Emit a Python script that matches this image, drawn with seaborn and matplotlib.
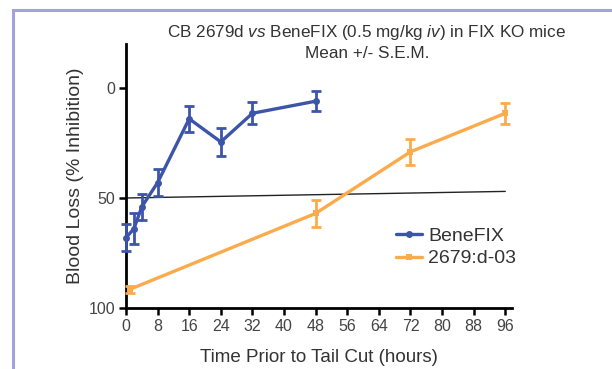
import numpy as np
import pandas as pd
import seaborn as sns
import matplotlib.pyplot as plt
from matplotlib.patches import Rectangle

sns.set_theme(style="ticks")
plt.rcParams["font.family"] = ["Liberation Sans", "DejaVu Sans"]
plt.rcParams["mathtext.fontset"] = "custom"
plt.rcParams["mathtext.rm"] = "Liberation Sans"
plt.rcParams["mathtext.it"] = "Liberation Sans:italic"

# BeneFIX
benefix_hours = [0, 2, 4, 8, 16, 24, 32, 48]
benefix_mean = [68, 64, 54, 43, 14, 24.5, 11.5, 6]
benefix_sem = [6, 7, 6, 6, 6, 6.5, 5, 4.5]

# 2679:d-03
cb_hours = [1, 48, 72, 96]
cb_mean = [91.5, 57, 29, 11.5]
cb_sem = [1.5, 6, 6, 4.7]

# 50% reference line
ref_hours = [0, 96]
ref_level = [50, 47]

x_ticks = list(range(0, 97, 8))
y_ticks = [0, 50, 100]

blue = "#3d55a8"
orange = "#fbab4c"

df = pd.concat([
    pd.DataFrame({"hours": benefix_hours, "loss": benefix_mean, "group": "BeneFIX"}),
    pd.DataFrame({"hours": cb_hours, "loss": cb_mean, "group": "2679:d-03"}),
])

fig = plt.figure(figsize=(6.12, 3.69), dpi=100)
ax = fig.add_axes([126 / 612, 1 - 308 / 369, (512 - 126) / 612, (308 - 44) / 369])

ax.plot(ref_hours, ref_level, color="#222222", lw=1.0, zorder=1)

sns.lineplot(data=df, x="hours", y="loss", hue="group", style="group",
             palette={"BeneFIX": blue, "2679:d-03": orange},
             markers={"BeneFIX": "o", "2679:d-03": "s"}, dashes=False,
             markersize=5, markeredgewidth=0, lw=2.4, ax=ax, clip_on=False,
             zorder=3)
ax.errorbar(benefix_hours, benefix_mean, yerr=benefix_sem, fmt="none",
            ecolor=blue, elinewidth=2, capsize=3.5, capthick=2, clip_on=False,
            zorder=3)
ax.errorbar(cb_hours, cb_mean, yerr=cb_sem, fmt="none",
            ecolor=orange, elinewidth=2, capsize=3.5, capthick=2, clip_on=False,
            zorder=3)

ax.set_xlim(0, 97.7)
ax.set_ylim(100, -20)
ax.set_xticks(x_ticks)
ax.set_yticks(y_ticks)
ax.tick_params(axis="both", labelsize=11.5, labelcolor="#444444", width=1.8,
               length=5, color="black", pad=3)
for side in ["left", "bottom"]:
    ax.spines[side].set_linewidth(2)
    ax.spines[side].set_color("black")
sns.despine(ax=ax)

ax.set_xlabel("Time Prior to Tail Cut (hours)", fontsize=13.5, color="#333333",
              labelpad=11)
ax.set_ylabel("Blood Loss (% Inhibition)", fontsize=14, color="#333333",
              labelpad=3)

ax.legend(title=None, frameon=False, fontsize=14, labelcolor="#333333",
          loc="center left", bbox_to_anchor=(0.68, 0.23), handlelength=1.3,
          handletextpad=0.35, borderaxespad=0, labelspacing=0.25)

fig.text(367 / 612, 1 - 33 / 369,
         "CB 2679d $\\mathit{vs}$ BeneFIX (0.5 mg/kg $\\mathit{iv}$) in FIX KO mice",
         ha="center", va="center", fontsize=12.3, color="#333333")
fig.text(367 / 612, 1 - 53 / 369, "Mean +/- S.E.M.",
         ha="center", va="center", fontsize=12.3, color="#333333")

fig.patches.append(Rectangle((12.5 / 612, -0.2), 1.2, 1.2 - 9.5 / 369 + 0.0,
                             transform=fig.transFigure, fill=False,
                             edgecolor="#a3a3d9", lw=2.2))

fig.savefig("out.png", dpi=100)
